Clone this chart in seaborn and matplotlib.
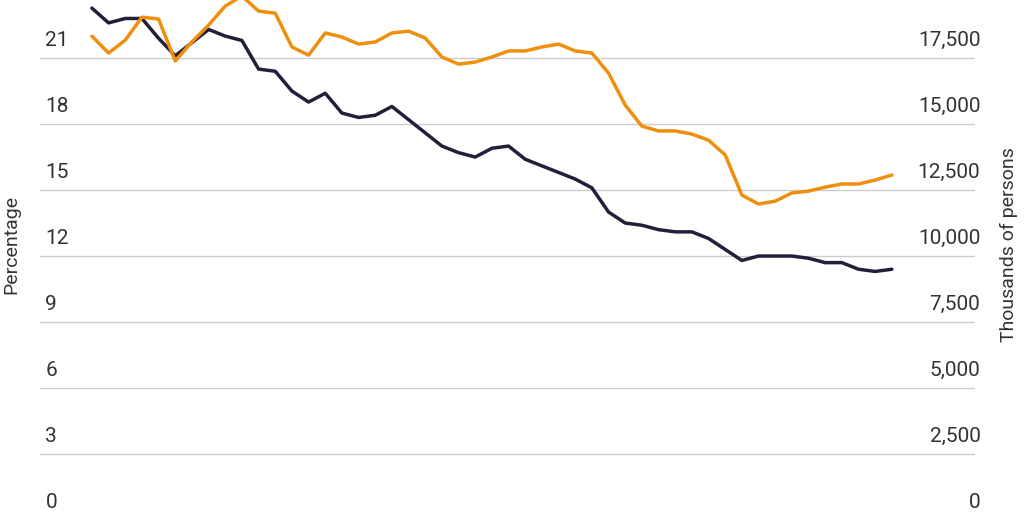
import matplotlib
matplotlib.use("Agg")
import matplotlib.pyplot as plt
import matplotlib.transforms as mtrans
import seaborn as sns
import pandas as pd
import numpy as np

percentage = [23.27,22.6,22.8,22.8,21.9,21.1,21.7,22.3,22.0,21.8,20.5,20.4,19.5,19.0,19.4,18.5,18.3,18.4,18.8,18.2,
              17.6,17.0,16.7,16.5,16.9,17.0,16.4,16.1,15.8,15.5,15.1,14.0,13.5,13.4,13.2,13.1,13.1,12.8,12.3,11.8,
              12.0,12.0,12.0,11.9,11.7,11.7,11.4,11.3,11.4]
thousands = [18330,17690,18180,19050,18980,17390,18110,18750,19470,19850,19280,19200,17920,17610,18450,18300,18030,18110,18450,18520,
             18260,17540,17270,17350,17540,17770,17770,17920,18030,17770,17690,16930,15720,14920,14740,14740,14620,14390,13830,12310,
             11970,12080,12390,12460,12610,12730,12730,12880,13070]
left_ticks = [0,3,6,9,12,15,18,21]
right_ticks = [0,2500,5000,7500,10000,12500,15000,17500]
right_labels = ["0","2,500","5,000","7,500","10,000","12,500","15,000","17,500"]

df = pd.DataFrame({"t": np.arange(len(percentage)), "pct": percentage, "th": thousands})
sns.set_style("white")
plt.rcParams['font.family'] = ['Roboto', 'DejaVu Sans']
fig = plt.figure(figsize=(10.24,5.12), dpi=100)
ax = fig.add_axes([0.039,-8/512,0.913,520/512])
ax2 = ax.twinx()
sns.lineplot(data=df, x="t", y="pct", ax=ax, color="#231f3a", lw=2.5)
sns.lineplot(data=df, x="t", y="th", ax=ax2, color="#ef8f0e", lw=2.5)
ylo, yhi = 0.0, 23.64
ax.set_ylim(ylo, yhi); ax2.set_ylim(ylo*2500/3, yhi*2500/3)
ax.set_xlim(-3.12, 52.98)
ax.set_yticks(left_ticks); ax.set_yticklabels([str(v) for v in left_ticks], ha='left', va='bottom')
ax2.set_yticks(right_ticks); ax2.set_yticklabels(right_labels, ha='right', va='bottom')
ax.tick_params(axis='y', length=0, pad=-4, labelsize=15, labelcolor="#333333")
ax2.tick_params(axis='y', length=0, pad=4, labelsize=15, labelcolor="#333333")
off = mtrans.ScaledTranslation(0, 6/72, fig.dpi_scale_trans)
for lab in ax.get_yticklabels() + ax2.get_yticklabels():
    lab.set_transform(lab.get_transform() + off)
ax.set_xticks([])
ax.yaxis.grid(True, color="#cccccc", lw=1)
ax.set_axisbelow(True)
for a in (ax, ax2):
    for s in a.spines.values(): s.set_visible(False)
    a.set_xlabel("")
ax.set_ylabel("Percentage", fontsize=14, color="#333333")
ax2.set_ylabel("Thousands of persons", fontsize=14, color="#333333")
ax.yaxis.set_label_coords(-0.021, 0.53)
ax2.yaxis.set_label_coords(1.027, 0.53)
fig.savefig("out.png", dpi=100)
